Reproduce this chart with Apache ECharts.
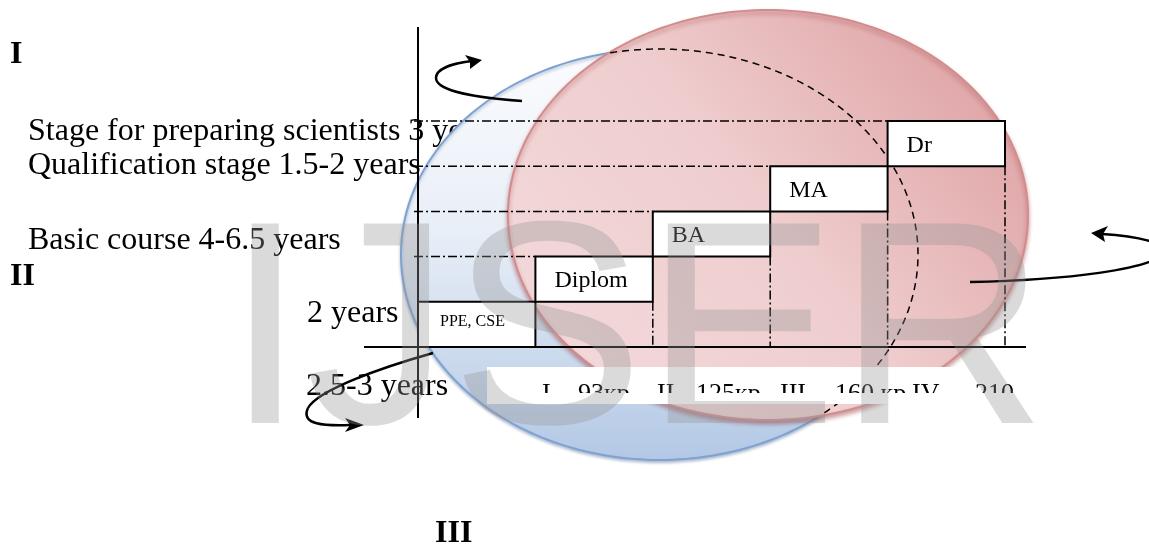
<!DOCTYPE html>
<html><head><meta charset="utf-8">
<script src="https://cdn.jsdelivr.net/npm/echarts@6/dist/echarts.min.js"></script>
<style>html,body{margin:0;padding:0;background:#fff}#c{width:1149px;height:548px}</style>
</head><body><div id="c"></div>
<script>
// ---- data ----
const stepNames = ['PPE, CSE', 'Diplom', 'BA', 'MA', 'Dr'];
const stepStart = [0, 1, 2, 3, 4];
const stepEnd   = [1, 2, 3, 4, 5];
const stepLow   = [0, 1, 2, 3, 4];
const stepHigh  = [1, 2, 3, 4, 5];
const stageTexts = ['Stage for preparing scientists 3 years', 'Qualification stage 1.5-2 years', 'Basic course 4-6.5 years', '2 years', '2.5-3 years'];
const romanBlocks = ['I', 'II', 'III'];
const courseNums = ['I', 'II', 'III', 'IV'];
const courseCredits = ['93кр', '125кр', '160 кр', '210'];

// ---- layout ----
const SERIF = '"Liberation Serif","Times New Roman",serif';
const romanX = [542, 657, 780, 912];
const creditX = [578, 696, 835, 975];

function txt(text, x, y, size, bold, z) {
  return { type: 'text', z: z, style: { text: text, x: x, y: y, font: (bold ? 'bold ' : '') + size + 'px ' + SERIF,
    fill: '#000', align: 'left', verticalAlign: 'middle', textAlign: 'left', textVerticalAlign: 'middle' } };
}
function ellipsePoints(e, n) {
  const pts = [];
  for (let k = 0; k < n; k++) { const t = 2 * Math.PI * k / n; pts.push([e.cx + e.rx * Math.cos(t), e.cy + e.ry * Math.sin(t)]); }
  return pts;
}
const blueE = { cx: 659.5, cy: 254.5, rx: 258.5, ry: 205.5 };
const pinkE = { cx: 768, cy: 215, rx: 260, ry: 205 };
function insideE(e, p) { const a = (p[0] - e.cx) / e.rx, b = (p[1] - e.cy) / e.ry; return a * a + b * b < 1; }
// blue outline part hidden behind pink, drawn dashed
const hidden = [];
for (let k = 0; k <= 720; k++) {
  const t = Math.PI + 2 * Math.PI * k / 720;
  const p = [blueE.cx + blueE.rx * Math.cos(t), blueE.cy + blueE.ry * Math.sin(t)];
  if (insideE(pinkE, p)) hidden.push(p);
}

function renderStep(params, api) {
  const i = params.dataIndex;
  const x0 = api.value(0), x1 = api.value(1), y0 = api.value(2), y1 = api.value(3);
  const tl = api.coord([x0, y1]), br = api.coord([x1, y0]);
  const base = api.coord([0, 0]);
  const guide = { stroke: '#000', lineWidth: 1.5, lineDash: [9, 3, 2, 3], fill: null };
  const ch = [];
  if (x0 > 0) {
    ch.push({ type: 'line', shape: { x1: base[0] - 4, y1: tl[1], x2: tl[0], y2: tl[1] }, style: guide });
    ch.push({ type: 'line', shape: { x1: br[0], y1: br[1], x2: br[0], y2: base[1] }, style: guide });
  }
  ch.push({ type: 'rect', shape: { x: tl[0], y: tl[1], width: br[0] - tl[0], height: br[1] - tl[1] },
    style: { fill: '#fff', stroke: '#000', lineWidth: 2 } });
  const cy = (tl[1] + br[1]) / 2;
  if (i === 0) ch.push(txt(stepNames[i], tl[0] + 22, cy - 3, 16, false));
  else ch.push(txt(stepNames[i], tl[0] + 19, cy + 2, 24, false));
  return { type: 'group', children: ch };
}
function renderCourse(params, api) {
  const i = params.dataIndex;
  const y = 394;
  return { type: 'group', children: [txt(courseNums[i], romanX[i], y, 26, false), txt(courseCredits[i], creditX[i], y, 26, false)] };
}

function head(pts) { return { type: 'polygon', z: 20, shape: { points: pts }, style: { fill: '#000' } }; }
function bez(a, c1, c2, b) {
  return { type: 'bezierCurve', z: 20, shape: { x1: a[0], y1: a[1], cpx1: c1[0], cpy1: c1[1], cpx2: c2[0], cpy2: c2[1], x2: b[0], y2: b[1] },
    style: { stroke: '#000', lineWidth: 2.5, fill: null } };
}

const graphics = [
  txt(romanBlocks[0], 10, 55, 32, true, 1),
  txt(stageTexts[0], 28, 132, 32, false, 1),
  txt(stageTexts[1], 28, 166, 32, false, 1),
  txt(stageTexts[2], 28, 241, 32, false, 1),
  txt(romanBlocks[1], 10, 277, 32, true, 1),
  txt(stageTexts[3], 307, 314, 32, false, 1),
  txt(stageTexts[4], 306, 387, 32, false, 1),
  txt(romanBlocks[2], 435, 534, 32, true, 1),
  { type: 'polygon', z: 2, shape: { points: ellipsePoints(blueE, 240) },
    style: { fill: { type: 'linear', x: 0, y: 0, x2: 0, y2: 1, colorStops: [{ offset: 0, color: '#fbfcfe' }, { offset: 0.45, color: '#e8eef7' }, { offset: 1, color: '#b3c8e5' }] },
      stroke: '#7ea2d2', lineWidth: 2, shadowBlur: 3, shadowOffsetY: 2, shadowColor: 'rgba(60,90,140,0.35)' } },
  { type: 'polygon', z: 3, shape: { points: ellipsePoints(pinkE, 240) },
    style: { fill: { type: 'linear', x: 0, y: 1, x2: 1, y2: 0, colorStops: [{ offset: 0, color: '#f4dcdd' }, { offset: 0.5, color: '#efcdce' }, { offset: 1, color: '#db999b' }] },
      stroke: '#d38c8e', lineWidth: 2, shadowBlur: 4, shadowOffsetY: 3, shadowColor: 'rgba(150,50,50,0.45)' } },
  { type: 'polyline', z: 4, shape: { points: hidden }, style: { stroke: '#000', lineWidth: 1.5, lineDash: [7, 5], fill: null } },
  { type: 'rect', z: 5, shape: { x: 487, y: 367, width: 529, height: 37 }, style: { fill: '#fff' } },
  { type: 'line', z: 20, shape: { x1: 418, y1: 27, x2: 418, y2: 418 }, style: { stroke: '#000', lineWidth: 2 } },
  { type: 'line', z: 20, shape: { x1: 364, y1: 347, x2: 1026, y2: 347 }, style: { stroke: '#000', lineWidth: 2 } },
  // top-left arrow
  bez([522, 101], [478, 98], [436, 91], [436, 78]),
  bez([436, 78], [436, 68], [455, 63], [472, 61]),
  head([[482, 60], [465, 55], [470, 62], [470, 69]]),
  // right arrow
  bez([970, 282], [1070, 280], [1150, 269], [1163, 254]),
  bez([1163, 254], [1172, 243], [1135, 236], [1102, 234]),
  head([[1091, 233], [1108, 226], [1103, 234], [1105, 242]]),
  // bottom-left arrow
  bez([433, 353], [380, 368], [318, 390], [308, 408]),
  bez([308, 408], [300, 425], [325, 426], [350, 425]),
  head([[364, 425], [345, 418], [350, 425], [345, 432]]),
  // watermark
  { type: 'text', z: 100, style: { text: 'IJSER', x: 225, y: 343, font: '290px "Liberation Sans",Arial,sans-serif',
    fill: 'rgba(150,150,150,0.35)', align: 'left', verticalAlign: 'middle', textAlign: 'left', textVerticalAlign: 'middle' } }
];

const chart = echarts.init(document.getElementById('c'), null, { renderer: 'canvas' });
chart.setOption({
  animation: false,
  backgroundColor: '#fff',
  grid: [{ left: 418, top: 121, width: 587, height: 226 }, { left: 487, top: 367, width: 529, height: 26 }],
  xAxis: [{ type: 'value', gridIndex: 0, min: 0, max: 5, show: false }, { type: 'value', gridIndex: 1, min: 0, max: 1, show: false }],
  yAxis: [{ type: 'value', gridIndex: 0, min: 0, max: 5, show: false }, { type: 'value', gridIndex: 1, min: 0, max: 1, show: false }],
  series: [
    { type: 'custom', xAxisIndex: 0, yAxisIndex: 0, z: 8, silent: true, renderItem: renderStep,
      data: stepNames.map((n, i) => [stepStart[i], stepEnd[i], stepLow[i], stepHigh[i]]) },
    { type: 'custom', xAxisIndex: 1, yAxisIndex: 1, z: 6, silent: true, clip: true, renderItem: renderCourse,
      data: courseNums.map((n, i) => [i / 4, 0.5]) }
  ],
  graphic: graphics
});
</script></body></html>
